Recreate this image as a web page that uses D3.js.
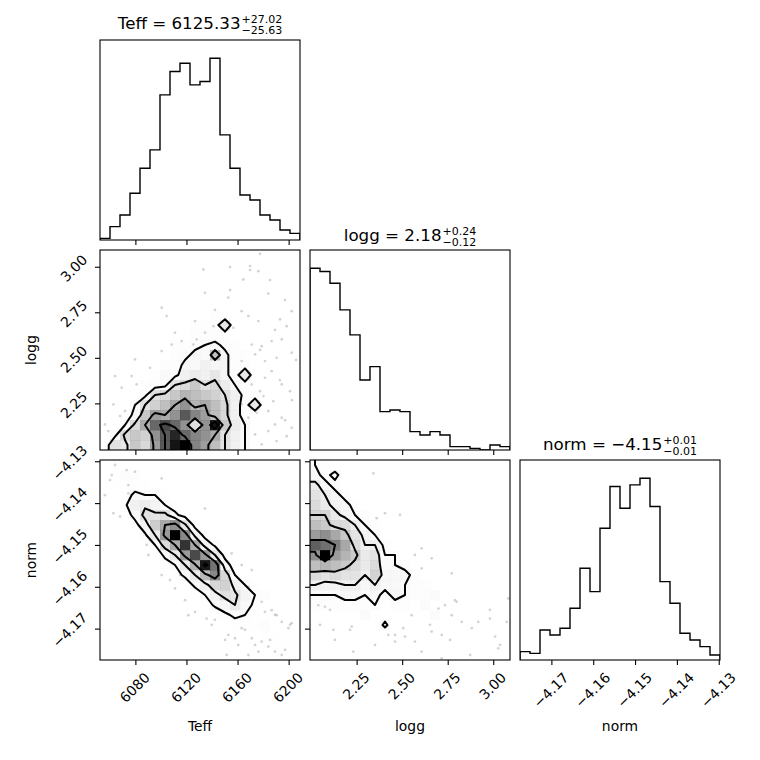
<!DOCTYPE html>
<html>
<head>
<meta charset="utf-8">
<script src="https://cdn.jsdelivr.net/npm/d3@7"></script>
<style>
body { margin: 0; background: #fff; }
text { font-family: "DejaVu Sans", sans-serif; fill: #000; }
</style>
</head>
<body>
<div id="corner"></div>
<script>
// parameter names, axis ranges and ticks
const names = ['Teff', 'logg', 'norm'];
const teffRange = [6052.3, 6208.9];
const loggRange = [1.994, 3.092];
const normRange = [-4.1775, -4.1297];
const teffTicks = [6080, 6120, 6160, 6200];
const loggTicks = [2.25, 2.50, 2.75, 3.00];
const normTicks = [-4.17, -4.16, -4.15, -4.14, -4.13];

// title values: median, +err, -err
const titleValues = ['6125.33', '2.18', '\u22124.15'];
const titlePlus = ['27.02', '0.24', '0.01'];
const titleMinus = ['25.63', '0.12', '0.01'];

// 1D histograms, 20 bins over the ranges above
const teffHist = [1, 8, 15, 28, 43, 54, 87, 101, 106, 93, 95, 109, 63, 43, 27, 24, 15, 12, 6, 4];
const loggHist = [109, 107, 100, 84, 69, 42, 50, 23, 24, 23, 11, 9, 11, 9, 2, 2, 1, 0, 3, 2];
const normHist = [5, 4, 18, 15, 19, 31, 55, 41, 79, 104, 91, 105, 109, 92, 47, 34, 16, 12, 8, 3];

// 2D histograms, 20x20; rows listed from the top bin (high y) down to the bottom bin
const loggTeffGrid = [
  [0,0,0,0,0,0,0,0,0,0,1,0,0,0,0,1,0,0,0,0],
  [0,0,0,0,0,0,0,0,0,1,0,0,1,0,0,0,1,0,0,0],
  [0,0,0,0,0,0,0,0,0,0,0,1,0,1,0,0,0,0,0,0],
  [0,0,0,0,0,0,0,0,1,0,1,0,0,0,0,1,0,0,0,0],
  [0,0,0,0,0,0,0,0,1,1,0,1,1,0,0,0,0,1,0,0],
  [0,0,0,0,0,0,0,1,0,1,1,1,1,0,1,0,0,0,1,0],
  [0,0,0,0,0,0,1,1,1,1,1,2,1,1,0,1,1,0,0,0],
  [0,0,0,0,0,0,1,1,1,2,2,2,8,1,1,0,1,0,0,0],
  [0,0,0,0,0,1,1,1,1,2,2,2,2,1,1,1,0,1,0,0],
  [0,0,0,0,0,1,1,2,2,3,4,5,3,2,1,1,1,0,0,0],
  [0,0,0,0,1,1,1,2,3,5,4,13,5,2,2,1,1,1,0,0],
  [0,0,0,1,1,1,2,2,5,4,6,5,5,2,2,1,1,0,0,0],
  [0,0,0,1,1,2,4,3,6,7,6,8,5,2,8,1,1,1,0,0],
  [0,0,1,1,2,2,3,9,10,12,9,10,7,4,2,1,1,0,0,0],
  [0,0,1,1,3,9,10,12,14,13,12,11,9,6,3,2,1,1,0,0],
  [0,0,1,4,9,11,13,15,17,14,15,13,10,6,2,8,1,0,0,0],
  [0,1,2,5,12,16,15,17,21,18,16,13,10,6,2,1,1,0,0,0],
  [0,1,4,10,15,20,22,20,17,9,17,25,12,7,4,1,0,0,0,0],
  [0,3,10,12,11,17,21,24,20,18,17,15,9,6,4,1,0,0,0,0],
  [1,9,8,12,10,16,21,25,26,18,16,13,9,6,4,1,0,0,0,0]
];
const normTeffGrid = [
  [0,1,1,0,0,0,0,0,0,0,0,0,0,0,0,0,0,0,0,0],
  [0,1,4,3,1,0,0,0,0,0,0,0,0,0,0,0,0,0,0,0],
  [1,2,2,2,2,1,0,0,0,0,0,0,0,0,0,0,0,0,0,0],
  [0,1,2,5,4,4,2,0,0,0,0,0,0,0,0,0,0,0,0,0],
  [0,1,3,9,10,8,4,2,0,0,0,0,0,0,0,0,0,0,0,0],
  [0,0,1,6,13,12,13,5,2,0,0,0,0,0,0,0,0,0,0,0],
  [0,0,0,2,8,17,22,25,12,2,1,0,0,0,0,0,0,0,0,0],
  [0,0,0,0,3,11,24,38,26,9,2,0,0,0,0,0,0,0,0,0],
  [0,0,0,0,1,4,14,22,34,22,8,3,0,0,0,0,0,0,0,0],
  [0,0,0,0,0,1,5,11,24,32,24,11,2,0,0,0,0,0,0,0],
  [0,0,0,0,0,0,2,4,11,21,36,28,7,1,0,0,0,0,0,0],
  [0,0,0,0,0,0,0,2,5,11,20,26,15,4,1,0,0,0,0,0],
  [0,0,0,0,0,0,0,0,1,5,9,15,16,9,4,2,0,0,0,0],
  [0,0,0,0,0,0,0,0,0,1,4,9,13,12,8,4,3,0,0,0],
  [0,0,0,0,0,0,0,0,0,0,1,5,7,11,6,3,1,0,0,0],
  [0,0,0,0,0,0,0,0,0,0,0,0,3,5,4,2,1,0,0,0],
  [0,0,0,0,0,0,0,0,0,0,0,0,0,2,2,2,4,1,0,0],
  [0,0,0,0,0,0,0,0,0,0,0,0,0,0,0,1,2,2,1,0],
  [0,0,0,0,0,0,0,0,0,0,0,0,0,0,0,0,1,1,2,1],
  [0,0,0,0,0,0,0,0,0,0,0,0,0,0,0,0,0,2,1,1]
];
const normLoggGrid = [
  [3,2,1,0,0,0,0,0,0,0,0,0,0,0,0,0,0,0,0,0],
  [4,2,4,1,0,0,0,0,0,0,0,0,0,0,0,0,0,0,0,0],
  [7,4,2,1,0,0,0,0,0,0,0,0,0,0,0,0,0,0,0,0],
  [8,6,4,2,1,0,0,0,0,0,0,0,0,0,0,0,0,0,0,0],
  [9,7,5,4,2,0,0,0,0,0,0,0,0,0,0,0,0,0,0,0],
  [10,10,7,5,3,2,0,0,0,0,0,0,0,0,0,0,0,0,0,0],
  [12,11,9,9,6,3,2,0,0,0,0,0,0,0,0,0,0,0,0,0],
  [15,16,14,11,8,5,3,1,0,0,0,0,0,0,0,0,0,0,0,0],
  [19,18,17,14,9,6,6,2,1,0,0,0,0,0,0,0,0,0,0,0],
  [16,24,15,13,11,7,8,3,3,1,0,0,0,0,0,0,0,0,0,0],
  [12,13,12,11,9,7,9,3,3,2,1,0,0,0,0,0,0,0,0,0],
  [9,8,9,8,8,6,10,4,4,4,2,1,1,1,0,0,0,0,0,0],
  [6,5,5,6,6,4,6,4,4,3,2,2,1,1,0,0,0,0,0,0],
  [3,3,3,4,4,3,4,2,4,3,2,2,3,1,1,0,0,0,1,0],
  [2,2,2,2,2,2,3,1,2,2,1,3,1,1,0,1,0,0,0,0],
  [1,1,0,0,1,3,1,1,1,1,1,1,3,0,0,0,0,0,1,0],
  [0,0,0,0,0,0,0,4,0,1,1,0,1,1,1,0,0,0,0,1],
  [0,0,0,0,0,0,0,0,0,0,0,0,0,1,0,1,0,0,0,0],
  [0,0,0,0,0,0,0,0,0,0,0,0,0,0,0,0,0,0,1,0],
  [0,0,0,0,0,0,0,0,0,0,0,0,0,0,0,0,0,0,0,0]
];

// individual samples seen outside the outer contour: [x, y]
const loggTeffPoints = [
  [6177.6,3.071],[6133.2,2.985],[6154.1,2.998],[6169.8,3.004],[6176.3,2.976],[6164.5,2.930],
  [6184.1,2.852],[6152.8,2.830],[6134.5,2.857],[6104.5,2.729],[6100.6,2.775],[6126.7,2.702],
  [6141.1,2.674],[6134.5,2.638],[6156.7,2.665],[6163.2,2.756],[6168.5,2.729],[6176.3,2.702],
  [6193.3,2.711],[6202.4,2.756],[6198.5,2.674],[6111.0,2.638],[6116.3,2.592],[6125.4,2.573],
  [6128.0,2.601],[6108.4,2.573],[6171.1,2.573],[6178.9,2.564],[6186.7,2.592],[6194.6,2.601],
  [6173.7,2.519],[6181.5,2.482],[6190.6,2.500],[6202.4,2.528],[6079.7,2.491],[6077.1,2.400],
  [6064.1,2.400],[6069.3,2.336],[6081.0,2.354],[6091.5,2.445],[6100.6,2.537],[6163.2,2.482],
  [6181.5,2.390],[6186.7,2.427],[6194.6,2.354],[6201.1,2.317],[6180.2,2.290],[6177.6,2.317],
  [6171.1,2.354],[6188.0,2.262],[6184.1,2.208],[6194.6,2.171],[6189.3,2.134],[6202.4,2.116],
  [6184.1,2.098],[6178.9,2.025],[6190.6,2.043],[6198.5,2.070],[6173.7,2.079],[6168.5,2.171],
  [6163.2,2.244],[6068.0,2.180],[6071.9,2.208],[6058.8,2.098],[6062.8,2.244],[6056.2,2.134],
  [6155.4,2.317],[6175.0,2.198],[6197.2,2.158],[6202.6,2.268],[6193.2,2.378],[6205.8,2.488],
  [6185.4,2.927],[6197.2,2.817],[6169.8,2.982],[6154.1,2.872],[6142.3,2.763],[6177.6,2.543],
  [6189.3,2.653]
];
const normTeffPoints = [
  [6064.1,-4.1309],[6073.2,-4.1321],[6079.7,-4.1325],[6100.6,-4.1341],[6062.8,-4.1424],
  [6068.0,-4.1432],[6074.5,-4.1377],[6088.9,-4.1500],[6100.6,-4.1572],[6107.1,-4.1584],
  [6118.9,-4.1632],[6134.5,-4.1413],[6121.5,-4.1668],[6135.8,-4.1676],[6139.8,-4.1691],
  [6152.8,-4.1715],[6158.0,-4.1723],[6163.2,-4.1699],[6171.1,-4.1723],[6178.9,-4.1731],
  [6184.1,-4.1743],[6189.3,-4.1755],[6194.6,-4.1763],[6199.8,-4.1699],[6202.4,-4.1687],
  [6194.6,-4.1684],[6186.7,-4.1656],[6190.6,-4.1668],[6181.5,-4.1660],[6178.9,-4.1636],
  [6168.5,-4.1600],[6155.4,-4.1520],[6163.2,-4.1548],[6171.1,-4.1560],[6151.5,-4.1763],
  [6074.5,-4.1357],[6061.5,-4.1333],[6056.2,-4.1381],[6090.2,-4.1524],[6111.0,-4.1604],
  [6126.7,-4.1660],[6176.3,-4.1755],[6160.6,-4.1739],[6168.5,-4.1763],[6060.1,-4.1345],
  [6083.6,-4.1440],[6091.5,-4.1488],[6115.0,-4.1572],[6130.6,-4.1608],[6154.1,-4.1644],
  [6165.8,-4.1703],[6185.4,-4.1727],[6197.2,-4.1751],[6201.1,-4.1691],[6189.3,-4.1667],
  [6173.7,-4.1739],[6142.3,-4.1679],[6150.2,-4.1727]
];
const normLoggPoints = [
  [2.342,-4.1329],[2.387,-4.1524],[2.360,-4.1436],[2.406,-4.1424],[2.488,-4.1428],
  [2.607,-4.1508],[2.570,-4.1524],[2.662,-4.1532],[2.607,-4.1556],[2.772,-4.1568],
  [2.735,-4.1644],[2.699,-4.1652],[2.772,-4.1668],[2.799,-4.1636],[2.827,-4.1684],
  [2.882,-4.1699],[2.918,-4.1684],[2.982,-4.1676],[3.010,-4.1719],[3.028,-4.1747],
  [3.083,-4.1628],[3.074,-4.1684],[2.552,-4.1668],[2.506,-4.1699],[2.516,-4.1719],
  [2.570,-4.1731],[2.607,-4.1755],[2.662,-4.1707],[2.717,-4.1715],[2.461,-4.1731],
  [2.424,-4.1715],[2.223,-4.1695],[2.122,-4.1703],[2.040,-4.1644],[2.076,-4.1648],
  [2.232,-4.1755],[2.717,-4.1771],[2.049,-4.1691],[2.131,-4.1727],[2.214,-4.1703],
  [2.351,-4.1739],[2.461,-4.1715],[2.653,-4.1691],[2.763,-4.1727],[2.873,-4.1763],
  [2.982,-4.1655],[3.037,-4.1739],[2.790,-4.1632],[2.104,-4.1655]
];

const ranges = [teffRange, loggRange, normRange];
const tickSets = [teffTicks, loggTicks, normTicks];
const formats = [d3.format('d'), d3.format('.2f'), d3.format('.2f')];
const hists = [teffHist, loggHist, normHist];
const grids = { '1,0': loggTeffGrid, '2,0': normTeffGrid, '2,1': normLoggGrid };
const samples = { '1,0': loggTeffPoints, '2,0': normTeffPoints, '2,1': normLoggPoints };
const titleBase = [29, 241, 450];

const size = 200, gap = 10, padLeft = 100, padTop = 40, K = 3;
const levels = [0.118, 0.393, 0.675, 0.865];

const svg = d3.select('#corner').append('svg')
    .attr('width', 760)
    .attr('height', 760);
svg.append('rect').attr('width', 760).attr('height', 760).attr('fill', 'white');
const defs = svg.append('defs');

function xScale(c) {
  const x0 = padLeft + c * (size + gap);
  return d3.scaleLinear().domain(ranges[c]).range([x0, x0 + size]);
}
function yScale(r) {
  const y0 = padTop + r * (size + gap);
  return d3.scaleLinear().domain(ranges[r]).range([y0 + size, y0]);
}

function histPanel(g, k, xs, y0) {
  const h = hists[k], n = h.length, rg = ranges[k];
  const edges = d3.range(n + 1).map(e => rg[0] + e * (rg[1] - rg[0]) / n);
  const ys = d3.scaleLinear().domain([0, 1.1 * d3.max(h)]).range([y0 + size, y0]);
  const p = d3.path();
  p.moveTo(xs(edges[0]), ys(0));
  h.forEach((v, b) => { p.lineTo(xs(edges[b]), ys(v)); p.lineTo(xs(edges[b + 1]), ys(v)); });
  p.lineTo(xs(edges[n]), ys(0));
  g.append('path').attr('d', p.toString()).attr('fill', 'none')
    .attr('stroke', '#000').attr('stroke-width', 1.4).attr('stroke-linejoin', 'miter');
}

function densityPanel(g, grid, pts, xs, ys, xr, yr) {
  const n = grid.length;
  const H = grid.slice().reverse();     // H[j][i], j = 0 is the lowest y bin
  const wx = (xr[1] - xr[0]) / n, wy = (yr[1] - yr[0]) / n;

  // data points (covered later inside the outer contour)
  g.append('g').selectAll('circle').data(pts).join('circle')
    .attr('cx', d => xs(d[0])).attr('cy', d => ys(d[1]))
    .attr('r', 1.4).attr('fill', '#000').attr('fill-opacity', 0.17);

  // contour levels from enclosed mass
  const flat = H.flat().sort((a, b) => b - a);
  const tot = d3.sum(flat);
  let cum = 0;
  const sm = flat.map(v => (cum += v) / tot);
  const V = levels.map(l => {
    let v = flat[0];
    sm.forEach((s, q) => { if (s <= l) v = flat[q]; });
    return v;
  }).sort((a, b) => a - b);
  for (let guard = 0; guard < 50; guard++) {
    const q = V.findIndex((v, i) => i < V.length - 1 && V[i + 1] === v);
    if (q < 0) break;
    V[q] *= 1 - 1e-4;
  }

  // padded grid like corner's H2
  const m = n + 4;
  const hmin = d3.min(flat), hmax = flat[0];
  const H2 = new Array(m * m).fill(hmin);
  for (let j = 0; j < n; j++) {
    for (let i = 0; i < n; i++) H2[(j + 2) * m + i + 2] = H[j][i];
    H2[(j + 2) * m + 1] = H[j][0];
    H2[(j + 2) * m + m - 2] = H[j][n - 1];
  }
  for (let i = 0; i < n; i++) {
    H2[m + i + 2] = H[0][i];
    H2[(m - 2) * m + i + 2] = H[n - 1][i];
  }
  H2[m + 1] = H[0][0];
  H2[m + m - 2] = H[0][n - 1];
  H2[(m - 2) * m + 1] = H[n - 1][0];
  H2[(m - 2) * m + m - 2] = H[n - 1][n - 1];

  const proj = d3.geoTransform({
    point(px, py) { this.stream.point(xs(xr[0] + (px - 2) * wx), ys(yr[0] + (py - 2) * wy)); }
  });
  const path = d3.geoPath(proj);
  const cont = d3.contours().size([m, m]);

  // white base fill hides the densest points
  g.append('path').datum(cont.contour(H2, V[0])).attr('d', path)
    .attr('fill', '#fff').attr('fill-rule', 'evenodd');

  // density map
  const cells = [];
  H.forEach((row, j) => row.forEach((v, i) => { if (v > 0) cells.push({ i, j, v }); }));
  g.append('g').selectAll('rect').data(cells).join('rect')
    .attr('x', d => xs(xr[0] + d.i * wx))
    .attr('y', d => ys(yr[0] + (d.j + 1) * wy))
    .attr('width', d => xs(xr[0] + (d.i + 1) * wx) - xs(xr[0] + d.i * wx) + 0.3)
    .attr('height', d => ys(yr[0] + d.j * wy) - ys(yr[0] + (d.j + 1) * wy) + 0.3)
    .attr('fill', d => { const t = 1 - d.v / hmax; const c = Math.round(255 * t); return `rgb(${c},${c},${c})`; })
    .attr('fill-opacity', d => d.v / hmax);

  // contour lines
  g.append('g').selectAll('path').data(V).join('path')
    .attr('d', v => path(cont.contour(H2, v)))
    .attr('fill', 'none').attr('stroke', '#000').attr('stroke-width', 2)
    .attr('stroke-linejoin', 'round');
}

function styleAxis(ax) {
  ax.attr('font-size', null).attr('font-family', null);
  ax.select('.domain').remove();
  ax.selectAll('.tick line').attr('stroke', '#000').attr('stroke-width', 1.1);
  ax.selectAll('.tick text').style('font-size', '13.9px');
}

for (let r = 0; r < K; r++) {
  for (let c = 0; c <= r; c++) {
    const x0 = padLeft + c * (size + gap), y0 = padTop + r * (size + gap);
    const xs = xScale(c);
    const id = `clip-${r}-${c}`;
    defs.append('clipPath').attr('id', id).append('rect')
      .attr('x', x0).attr('y', y0).attr('width', size).attr('height', size);
    const g = svg.append('g').attr('clip-path', `url(#${id})`);

    if (r === c) {
      histPanel(g, c, xs, y0);
    } else {
      const ys = yScale(r);
      densityPanel(g, grids[`${r},${c}`], samples[`${r},${c}`], xs, ys, ranges[c], ranges[r]);
      // y ticks
      const ay = svg.append('g').attr('transform', `translate(${x0},0)`)
        .call(d3.axisLeft(ys).tickValues(tickSets[r]).tickSize(5).tickPadding(0)
          .tickFormat(c === 0 ? formats[r] : () => ''));
      styleAxis(ay);
      if (c === 0) {
        ay.selectAll('.tick text').each(function () {
          const w = this.getComputedTextLength();
          const off = 9.8 + (w + 15) / 2.83;
          d3.select(this).attr('x', 0).attr('y', 0).attr('dy', '0.35em')
            .attr('text-anchor', 'middle')
            .attr('transform', `translate(${-off},1) rotate(-45)`);
        });
      }
    }

    // x ticks
    const ax = svg.append('g').attr('transform', `translate(0,${y0 + size})`)
      .call(d3.axisBottom(xs).tickValues(tickSets[c]).tickSize(5).tickPadding(0)
        .tickFormat(r === K - 1 ? formats[c] : () => ''));
    styleAxis(ax);
    if (r === K - 1) {
      ax.selectAll('.tick text').each(function () {
        const w = this.getComputedTextLength();
        const off = 9.8 + (w + 15) / 2.83;
        d3.select(this).attr('x', 0).attr('y', 0).attr('dy', '0.35em')
          .attr('text-anchor', 'middle')
          .attr('transform', `translate(-1,${off}) rotate(-45)`);
      });
    }

    // frame
    svg.append('rect').attr('x', x0).attr('y', y0).attr('width', size).attr('height', size)
      .attr('fill', 'none').attr('stroke', '#000').attr('stroke-width', 1.1);

    // title on the diagonal
    if (r === c) {
      const tg = svg.append('g');
      const b = titleBase[c];
      const main = tg.append('text').attr('y', b).style('font-size', '16.7px')
        .text(`${names[c]} = ${titleValues[c]}`);
      const sup = tg.append('text').attr('y', b - 6.5).style('font-size', '11px')
        .text(`+${titlePlus[c]}`);
      const sub = tg.append('text').attr('y', b + 5).style('font-size', '11px')
        .text(`\u2212${titleMinus[c]}`);
      const wm = main.node().getComputedTextLength();
      const ws = Math.max(sup.node().getComputedTextLength(), sub.node().getComputedTextLength());
      const tx = x0 + size / 2 - (wm + ws + 1) / 2;
      main.attr('x', tx);
      sup.attr('x', tx + wm + 1);
      sub.attr('x', tx + wm + 1);
    }
  }
}

// axis labels
names.forEach((nm, k) => {
  svg.append('text').attr('x', padLeft + k * (size + gap) + size / 2).attr('y', 731)
    .attr('text-anchor', 'middle').style('font-size', '13.9px').text(nm);
});
[1, 2].forEach(k => {
  const cy = padTop + k * (size + gap) + size / 2;
  svg.append('text').attr('transform', `translate(36,${cy}) rotate(-90)`)
    .attr('text-anchor', 'middle').style('font-size', '13.9px').text(names[k]);
});
</script>
</body>
</html>
